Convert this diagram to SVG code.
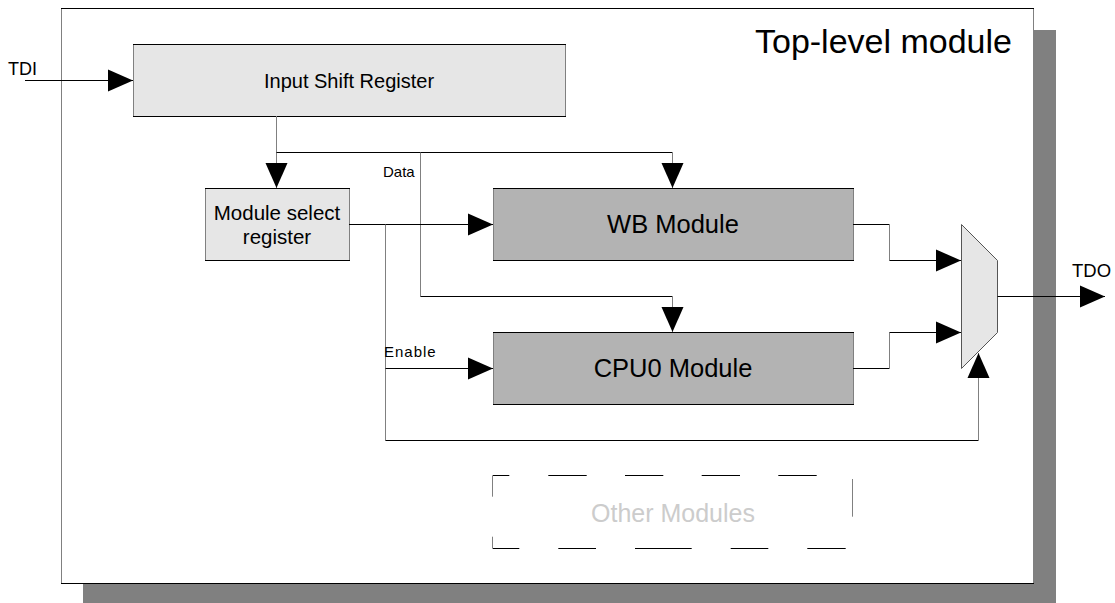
<svg xmlns="http://www.w3.org/2000/svg" width="1115" height="603" viewBox="0 0 1115 603">
  <style>
    text { font-family: "Liberation Sans", Arial, sans-serif; fill: #000; }
    .h { stroke: #000; stroke-width: 1; fill: none; }
    .v { stroke: #808080; stroke-width: 1; fill: none; }
    .edge { stroke: #000; stroke-width: 1; fill: none; }
    .light { fill: #e6e6e6; stroke: #808080; stroke-width: 1; }
    .dark { fill: #b3b3b3; stroke: #808080; stroke-width: 1; }
    .arrow { marker-end: url(#head); }
    .lbl { font-size: 15px; }
  </style>
  <defs>
    <marker id="head" markerUnits="userSpaceOnUse" markerWidth="25" markerHeight="22" refX="25" refY="11" orient="auto" overflow="visible">
      <path d="M0,0 L25,11 L0,22 Z" fill="#000"/>
    </marker>
  </defs>

  <rect width="1115" height="603" fill="#fff"/>

  <!-- enclosing top-level module with drop shadow -->
  <g id="top-level">
    <rect x="83" y="30" width="973" height="576" fill="#808080"/>
    <rect x="61.5" y="8.5" width="972" height="575" fill="#fff" stroke="#808080"/>
    <path class="edge" d="M61 8.5 H1034 M61 583.5 H1034"/>
    <text x="1012" y="53" font-size="34" text-anchor="end">Top-level module</text>
  </g>

  <g id="input-shift-register">
    <rect class="light" x="133.5" y="44.5" width="432" height="72"/>
    <path class="edge" d="M133 44.5 H566 M133 116.5 H566"/>
    <text x="349" y="88" font-size="20" text-anchor="middle">Input Shift Register</text>
  </g>

  <g id="module-select-register">
    <rect class="light" x="205.5" y="188.5" width="144" height="72"/>
    <path class="edge" d="M205 188.5 H350 M205 260.5 H350"/>
    <text x="277" y="220" font-size="20.5" text-anchor="middle">Module select</text>
    <text x="277" y="244" font-size="20.5" text-anchor="middle">register</text>
  </g>

  <g id="wb-module">
    <rect class="dark" x="493.5" y="188.5" width="360" height="72"/>
    <path class="edge" d="M493 188.5 H854 M493 260.5 H854"/>
    <text x="673" y="233" font-size="25.5" text-anchor="middle">WB Module</text>
  </g>

  <g id="cpu0-module">
    <rect class="dark" x="493.5" y="332.5" width="360" height="72"/>
    <path class="edge" d="M493 332.5 H854 M493 404.5 H854"/>
    <text x="673" y="377" font-size="25.5" text-anchor="middle">CPU0 Module</text>
  </g>

  <g id="output-mux">
    <polygon points="961.5,224.5 997.5,260.5 997.5,332.5 961.5,368.5" fill="#e6e6e6" stroke="#555" stroke-width="1"/>
  </g>

  <g id="other-modules">
    <path class="h" d="M492.7 475.5 H509.3 M548.3 475.5 H586.7 M625 475.5 H663.3 M701.7 475.5 H740 M778.3 475.5 H816.7
                       M492.7 548.5 H519.3 M558.3 548.5 H596 M635 548.5 H691.7 M730.7 548.5 H768.3 M807.3 548.5 H845.7"/>
    <path class="v" d="M492.5 475.7 V496.7 M492.5 536.7 V548.3 M852.5 479 V516.7"/>
    <text x="673" y="522" font-size="25" text-anchor="middle" style="fill:#cccccc">Other Modules</text>
  </g>

  <g id="connectors">
    <!-- TDI into the shift register -->
    <path class="h arrow" d="M25 80.5 H133"/>
    <!-- shift register to module select register -->
    <path class="v arrow" d="M276.5 116 V188"/>
    <!-- data bus -->
    <path class="h" d="M276.5 152.5 H672.5"/>
    <path class="v arrow" d="M672.5 152.5 V188"/>
    <path class="v" d="M420.5 152.5 V296.5"/>
    <path class="h" d="M420.5 296.5 H672.5"/>
    <path class="v arrow" d="M672.5 296.5 V332"/>
    <!-- module select / enable lines -->
    <path class="h arrow" d="M349 224.5 H493"/>
    <path class="v" d="M385.5 224.5 V440.5"/>
    <path class="h arrow" d="M385.5 368.5 H493"/>
    <path class="h" d="M385.5 440.5 H978.5"/>
    <path class="v arrow" d="M978.5 440.5 V353"/>
    <!-- module outputs into the mux -->
    <path class="h" d="M853 224.5 H889.5"/>
    <path class="v" d="M889.5 224.5 V260.5"/>
    <path class="h arrow" d="M889.5 260.5 H961"/>
    <path class="h" d="M853 368.5 H889.5"/>
    <path class="v" d="M889.5 368.5 V332.5"/>
    <path class="h arrow" d="M889.5 332.5 H961"/>
    <!-- mux output to TDO -->
    <path class="h arrow" d="M997.5 296.5 H1105"/>
  </g>

  <g id="labels">
    <text x="8" y="75" font-size="18">TDI</text>
    <text x="1072" y="277" font-size="18.5">TDO</text>
    <text class="lbl" x="383" y="177">Data</text>
    <text class="lbl" x="384" y="357" letter-spacing="1">Enable</text>
  </g>
</svg>
